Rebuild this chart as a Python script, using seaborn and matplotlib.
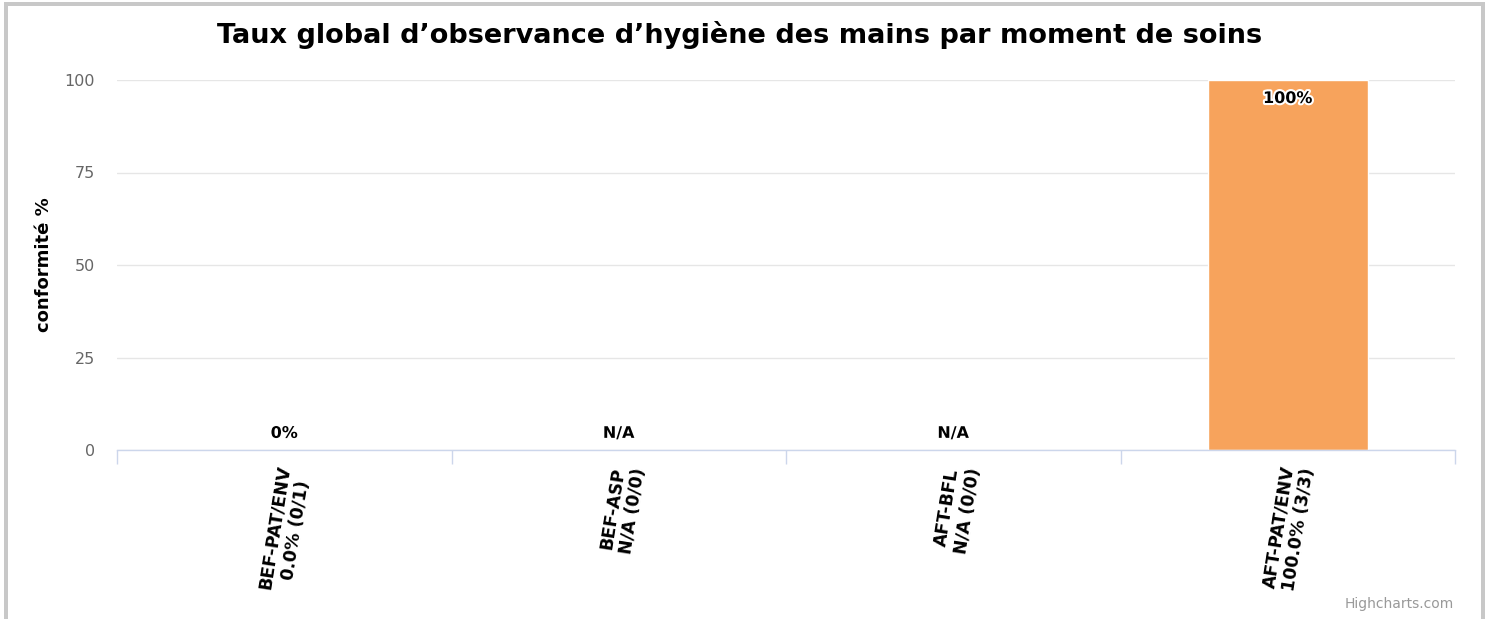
import numpy as np
import pandas as pd
import matplotlib
matplotlib.use("Agg")
import matplotlib.pyplot as plt
import matplotlib.patheffects as pe
import matplotlib.transforms as mtransforms
from matplotlib.lines import Line2D
import seaborn as sns

# Data
moments = ["BEF-PAT/ENV", "BEF-ASP", "AFT-BFL", "AFT-PAT/ENV"]
observed = [0, 0, 0, 3]
opportunities = [1, 0, 0, 3]
y_ticks = [0, 25, 50, 75, 100]

title = "Taux global d’observance d’hygiène des mains par moment de soins"
y_label = "conformité %"
bar_color = "#f7a35c"

W, H = 1491, 619


def make_frame():
    rates = []
    for num, den in zip(observed, opportunities):
        rates.append(100.0 * num / den if den > 0 else np.nan)
    df = pd.DataFrame({"moment": moments, "rate": rates,
                       "num": observed, "den": opportunities})
    return df


def tick_label(row):
    if row["den"] > 0:
        return f"{row['moment']}\n{row['rate']:.1f}% ({row['num']}/{row['den']})"
    return f"{row['moment']}\nN/A ({row['num']}/{row['den']})"


def main():
    df = make_frame()

    sns.set_style("white")
    plt.rcParams["font.family"] = ["DejaVu Sans"]
    plt.rcParams["text.color"] = "black"
    plt.rcParams["axes.labelcolor"] = "black"

    fig = plt.figure(figsize=(W / 100, H / 100), dpi=100)
    ax = fig.add_axes([117 / W, 1 - 450 / H, (1455 - 117) / W, 370 / H])

    sns.barplot(data=df, x="moment", y="rate", color=bar_color,
                width=0.478, saturation=1, ax=ax, errorbar=None)

    ax.set_ylim(0, 100)
    ax.set_xlim(-0.5, len(moments) - 0.5)
    ax.set_yticks(y_ticks)
    ax.set_yticklabels([str(t) for t in y_ticks], color="#666666", fontsize=11.5)
    ax.tick_params(axis="y", length=0, pad=16)
    ax.yaxis.grid(True, color="#e6e6e6", linewidth=1)
    ax.set_axisbelow(True)

    for side in ["top", "right", "left"]:
        ax.spines[side].set_visible(False)
    ax.spines["bottom"].set_color("#ccd6eb")
    ax.spines["bottom"].set_linewidth(1)

    # category labels
    ax.set_xticks(range(len(moments)))
    ax.set_xticklabels([tick_label(r) for _, r in df.iterrows()],
                       rotation=81, ha="right", va="center",
                       rotation_mode="anchor", multialignment="center",
                       fontsize=12.5, fontweight="bold", color="black")
    ax.tick_params(axis="x", which="major", length=0, pad=12)
    shift = mtransforms.ScaledTranslation(11 / 100, 0, fig.dpi_scale_trans)
    for lbl in ax.get_xticklabels():
        lbl.set_transform(lbl.get_transform() + shift)

    # ticks between categories
    ax.set_xticks(np.arange(-0.5, len(moments)), minor=True)
    ax.tick_params(axis="x", which="minor", bottom=True, length=10,
                   color="#ccd6eb", width=1)

    ax.set_xlabel("")
    ax.set_ylabel(y_label, fontsize=13, fontweight="bold")
    ax.yaxis.set_label_coords((53 - 117) / (1455 - 117), 0.5)

    # data labels
    outline = [pe.withStroke(linewidth=3, foreground="white")]
    for i, row in df.iterrows():
        if np.isnan(row["rate"]):
            ax.text(i, 4.5, "N/A", ha="center", va="center", fontsize=11.5,
                    fontweight="bold", path_effects=outline)
        elif row["rate"] >= 90:
            ax.text(i, row["rate"] - 5, f"{row['rate']:.0f}%", ha="center",
                    va="center", fontsize=11.5, fontweight="bold", path_effects=outline)
        else:
            ax.text(i, row["rate"] + 4.5, f"{row['rate']:.0f}%", ha="center",
                    va="center", fontsize=11.5, fontweight="bold", path_effects=outline)

    fig.text(740 / W, 1 - 35 / H, title, ha="center", va="center",
             fontsize=19.5, fontweight="bold")
    fig.text(1454 / W, 1 - 604 / H, "Highcharts.com", ha="right",
             va="center", fontsize=10, color="#999999")

    # outer frame (left, top, right)
    frame = "#c8c8c8"
    lw = 4 * 72 / 100
    fig.add_artist(Line2D([6 / W, 6 / W], [0, 1 - 2 / H], color=frame, linewidth=lw,
                          solid_capstyle="butt", transform=fig.transFigure))
    fig.add_artist(Line2D([4 / W, 1485 / W], [1 - 4 / H, 1 - 4 / H], color=frame,
                          linewidth=lw, solid_capstyle="butt", transform=fig.transFigure))
    fig.add_artist(Line2D([1483 / W, 1483 / W], [0, 1 - 2 / H], color=frame,
                          linewidth=lw, solid_capstyle="butt", transform=fig.transFigure))

    fig.savefig("out.png", dpi=100, facecolor="white")


if __name__ == "__main__":
    main()
